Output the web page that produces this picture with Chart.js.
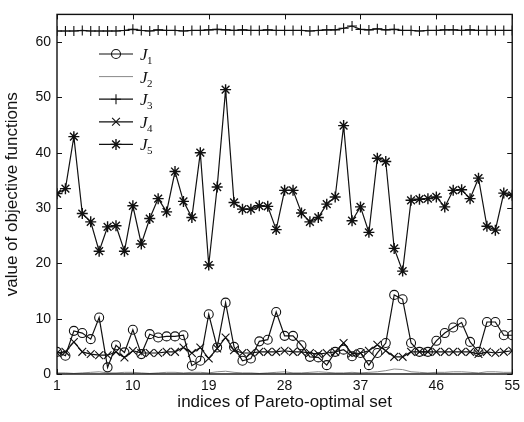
<!DOCTYPE html>
<html>
<head>
<meta charset="utf-8">
<script src="https://cdn.jsdelivr.net/npm/chart.js@4.4.1/dist/chart.umd.min.js"></script>
<style>
html, body { margin: 0; padding: 0; background: #fff; }
#wrap { width: 524px; height: 422px; }
</style>
</head>
<body>
<div id="wrap"><canvas id="chart" width="524" height="422"></canvas></div>
<script>
// indices of the Pareto-optimal solutions
const indices = Array.from({ length: 55 }, (_, i) => i + 1);
const xTicks = [1, 10, 19, 28, 37, 46, 55];
const yTicks = [0, 10, 20, 30, 40, 50, 60];
const seriesNames = ['1', '2', '3', '4', '5'];

const J1 = [4.0, 3.3, 7.8, 7.4, 6.3, 10.2, 1.2, 5.2, 3.9, 8.0,
  3.6, 7.2, 6.6, 6.8, 6.8, 7.0, 1.5, 2.4, 10.8, 4.8,
  12.9, 4.9, 2.4, 2.8, 5.9, 6.2, 11.2, 6.9, 6.9, 5.2,
  3.1, 3.0, 1.6, 4.0, 4.4, 3.2, 3.8, 1.6, 3.8, 5.6,
  14.3, 13.5, 5.6, 4.0, 4.0, 6.0, 7.4, 8.4, 9.3, 5.8,
  4.0, 9.4, 9.4, 7.0, 7.0];
const J2 = [0.2, 0.2, 0.1, 0.2, 0.3, 0.4, 0.2, 0.2, 0.3, 0.3,
  0.2, 0.1, 0.2, 0.3, 0.3, 0.2, 0.3, 0.3, 0.2, 0.4,
  0.5, 0.3, 0.2, 0.2, 0.1, 0.2, 0.3, 0.4, 0.2, 0.2,
  0.3, 0.4, 0.3, 0.2, 0.2, 0.3, 0.2, 0.3, 0.4, 0.6,
  0.9, 0.8, 0.4, 0.3, 0.2, 0.3, 0.3, 0.4, 0.4, 0.3,
  0.2, 0.4, 0.4, 0.3, 0.3];
const J3 = [62.0, 62.0, 62.0, 62.1, 62.0, 62.0, 62.0, 62.0, 62.1, 62.3,
  62.1, 62.0, 62.2, 62.1, 62.1, 62.0, 62.1, 62.1, 62.2, 62.3,
  62.2, 62.1, 62.2, 62.1, 62.1, 62.2, 62.1, 62.1, 62.1, 62.1,
  62.0, 62.1, 62.2, 62.2, 62.5, 62.9, 62.3, 62.2, 62.4, 62.2,
  62.3, 62.1, 62.1, 62.0, 62.1, 62.1, 62.2, 62.2, 62.1, 62.2,
  62.1, 62.1, 62.1, 62.1, 62.1];
const J4 = [3.8, 4.0, 5.8, 4.0, 3.6, 3.4, 3.4, 4.0, 3.0, 4.2,
  3.8, 3.8, 3.8, 4.0, 4.0, 4.8, 3.8, 4.8, 2.8, 4.6,
  6.6, 4.3, 3.8, 3.8, 4.0, 4.0, 4.0, 4.2, 4.0, 4.0,
  3.8, 3.6, 3.8, 4.0, 5.6, 3.7, 3.8, 4.2, 5.3, 4.2,
  3.1, 3.1, 4.0, 4.0, 4.0, 4.0, 4.0, 4.0, 4.0, 4.0,
  3.6, 4.0, 3.8, 4.0, 4.2];
const J5 = [32.6, 33.5, 42.9, 29.0, 27.5, 22.2, 26.6, 26.8, 22.2, 30.4,
  23.5, 28.1, 31.7, 29.3, 36.6, 31.2, 28.3, 40.0, 19.7, 33.8,
  51.4, 31.0, 29.8, 29.8, 30.4, 30.3, 26.1, 33.2, 33.2, 29.1,
  27.5, 28.3, 30.7, 32.0, 44.9, 27.7, 30.2, 25.6, 39.0, 38.4,
  22.7, 18.6, 31.4, 31.6, 31.7, 32.0, 30.2, 33.2, 33.3, 31.7,
  35.4, 26.7, 26.0, 32.7, 32.3];

const ink = '#111';
const fontFamily = '"Liberation Sans", Arial, sans-serif';
const toPoints = arr => arr.map((v, i) => ({ x: indices[i], y: v }));

const datasets = [
  { label: 'J1', data: toPoints(J1), pointStyle: 'circle', pointRadius: 4.5, borderColor: ink, borderWidth: 1.2, pointBorderWidth: 1.1, pointBackgroundColor: 'rgba(0,0,0,0)' },
  { label: 'J2', data: toPoints(J2), pointRadius: 0, borderColor: '#888', borderWidth: 1 },
  { label: 'J3', data: toPoints(J3), pointStyle: 'cross', pointRadius: 5, borderColor: ink, borderWidth: 1.2, pointBorderWidth: 1.1 },
  { label: 'J4', data: toPoints(J4), pointStyle: 'crossRot', pointRadius: 5.5, borderColor: ink, borderWidth: 1.2, pointBorderWidth: 1.1 },
  { label: 'J5', data: toPoints(J5), pointStyle: 'star', pointRadius: 5.5, borderColor: ink, borderWidth: 1.2, pointBorderWidth: 1.4 }
];
datasets.forEach(d => { d.tension = 0; d.fill = false; d.pointBorderColor = d.borderColor; });

// box frame with inward ticks on all four sides
const framePlugin = {
  id: 'frame',
  afterDraw(chart) {
    const { ctx, chartArea: a, scales } = chart;
    ctx.save();
    ctx.strokeStyle = ink;
    ctx.lineWidth = 1.4;
    ctx.strokeRect(a.left, a.top, a.right - a.left, a.bottom - a.top);
    ctx.lineWidth = 1;
    ctx.beginPath();
    xTicks.forEach(v => {
      const x = Math.round(scales.x.getPixelForValue(v)) + 0.5;
      ctx.moveTo(x, a.bottom); ctx.lineTo(x, a.bottom - 5);
      ctx.moveTo(x, a.top); ctx.lineTo(x, a.top + 5);
    });
    yTicks.forEach(v => {
      const y = Math.round(scales.y.getPixelForValue(v)) + 0.5;
      ctx.moveTo(a.left, y); ctx.lineTo(a.left + 5, y);
      ctx.moveTo(a.right, y); ctx.lineTo(a.right - 5, y);
    });
    ctx.stroke();
    ctx.restore();
  }
};

function drawMarker(ctx, style, x, y, r) {
  ctx.beginPath();
  const d = r * Math.SQRT1_2;
  if (style === 'circle') {
    ctx.arc(x, y, r, 0, Math.PI * 2);
  }
  if (style === 'cross' || style === 'star') {
    ctx.moveTo(x - r, y); ctx.lineTo(x + r, y);
    ctx.moveTo(x, y - r); ctx.lineTo(x, y + r);
  }
  if (style === 'crossRot' || style === 'star') {
    ctx.moveTo(x - d, y - d); ctx.lineTo(x + d, y + d);
    ctx.moveTo(x - d, y + d); ctx.lineTo(x + d, y - d);
  }
  ctx.stroke();
}

// legend inside the plot: line sample, marker, italic J with subscript
const legendPlugin = {
  id: 'jLegend',
  afterDraw(chart) {
    const { ctx } = chart;
    const x0 = 99, x1 = 133, top = 54, step = 22.6;
    ctx.save();
    chart.data.datasets.forEach((ds, i) => {
      const y = top + i * step;
      ctx.strokeStyle = ds.borderColor;
      ctx.lineWidth = ds.borderWidth;
      ctx.beginPath();
      ctx.moveTo(x0, y); ctx.lineTo(x1, y);
      ctx.stroke();
      if (ds.pointRadius > 0) {
        ctx.lineWidth = ds.pointBorderWidth;
        drawMarker(ctx, ds.pointStyle, (x0 + x1) / 2, y, ds.pointRadius);
      }
      ctx.fillStyle = ink;
      ctx.textBaseline = 'alphabetic';
      ctx.textAlign = 'left';
      ctx.font = 'italic 17px "Liberation Serif", serif';
      ctx.fillText('J', 140, y + 6);
      ctx.font = '11px "Liberation Serif", serif';
      ctx.fillText(seriesNames[i], 147, y + 10);
    });
    ctx.restore();
  }
};

new Chart(document.getElementById('chart').getContext('2d'), {
  type: 'line',
  data: { datasets },
  options: {
    responsive: false,
    animation: false,
    layout: { padding: { top: 9, right: 8, left: 0, bottom: 0 } },
    plugins: { legend: { display: false }, tooltip: { enabled: false } },
    scales: {
      x: {
        type: 'linear',
        min: 1,
        max: 55,
        afterBuildTicks(scale) { scale.ticks = xTicks.map(v => ({ value: v })); },
        afterFit(scale) { scale.height = 48; },
        grid: { display: false, drawTicks: false },
        border: { display: false },
        ticks: { color: ink, padding: 4, font: { family: fontFamily, size: 14 } },
        title: { display: true, text: 'indices of Pareto-optimal set', color: ink, padding: { top: 0, bottom: 9 }, font: { family: fontFamily, size: 17 } }
      },
      y: {
        type: 'linear',
        min: 0,
        max: 65,
        afterBuildTicks(scale) { scale.ticks = yTicks.map(v => ({ value: v })); },
        afterFit(scale) { scale.width = 57; },
        grid: { display: false, drawTicks: false },
        border: { display: false },
        ticks: { color: ink, padding: 6, font: { family: fontFamily, size: 14 } },
        title: { display: true, text: 'value of objective functions', color: ink, padding: { top: 2, bottom: 0 }, font: { family: fontFamily, size: 17 } }
      }
    }
  },
  plugins: [framePlugin, legendPlugin]
});
</script>
</body>
</html>
